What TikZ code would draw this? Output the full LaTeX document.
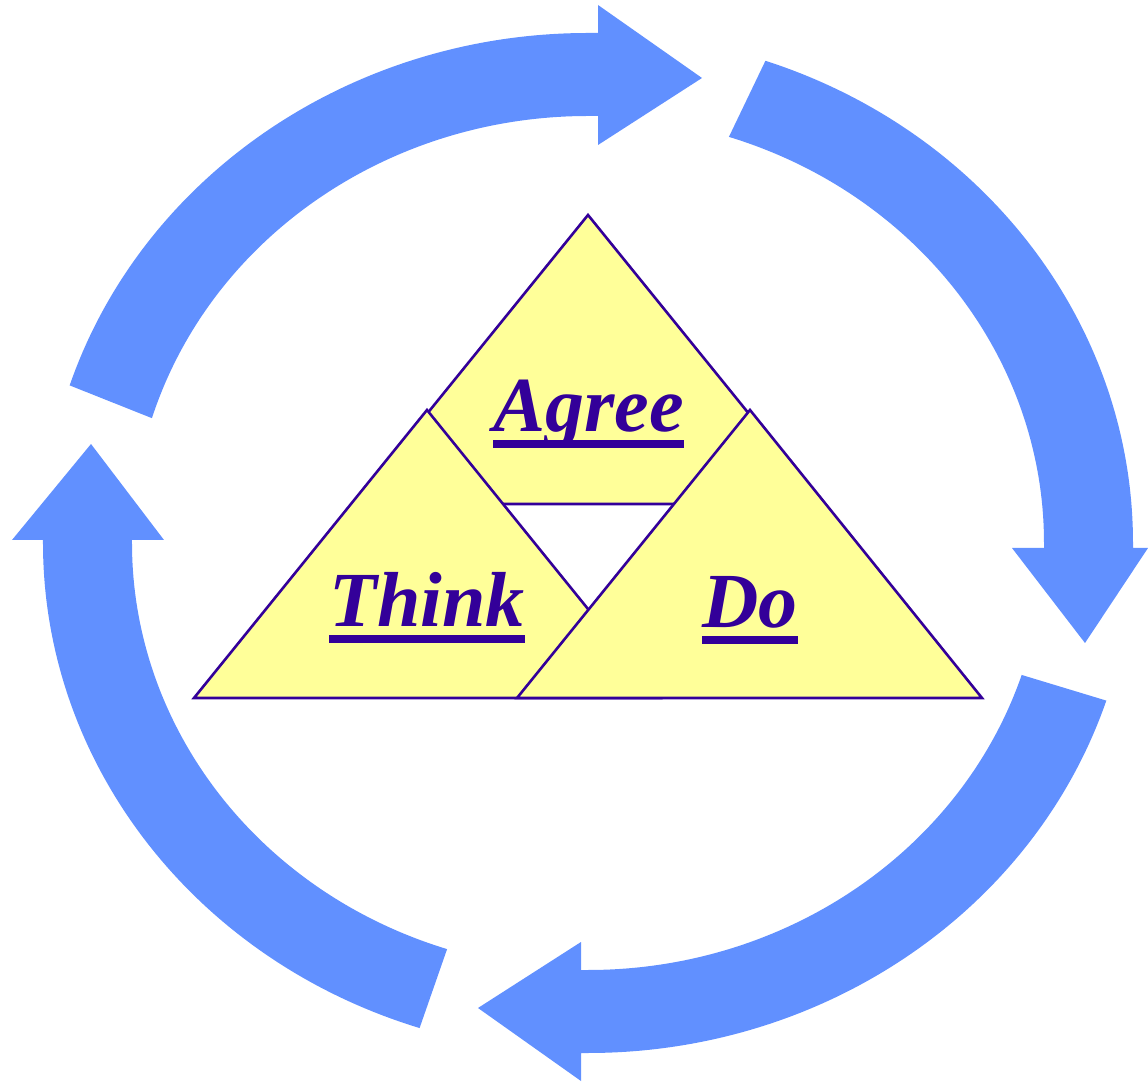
\documentclass[tikz,border=0pt]{standalone}
\usepackage{fontspec}
\setmainfont{Liberation Serif}
\definecolor{arrowblue}{HTML}{6190FF}
\definecolor{tripurple}{HTML}{330099}
\definecolor{triyellow}{HTML}{FFFF99}
\newcommand\ulword[1]{\setbox0\hbox{#1}\rlap{\raisebox{-16pt}{\rule{\wd0}{8pt}}}\box0}
\tikzset{
  cyclearrow/.style={fill=arrowblue, draw=none},
  tri/.style={fill=triyellow, draw=tripurple, line width=2.6pt, line join=miter},
  word/.style={text=tripurple, font=\fontsize{78pt}{80pt}\selectfont\bfseries\itshape, anchor=base, inner sep=0pt}
}
\begin{document}
\begin{tikzpicture}[x=1pt,y=1pt]
\useasboundingbox (-588,-540) rectangle (560,543);
% top arrow
\fill[cyclearrow] (162:545pt and 510pt) arc[start angle=162,end angle=90,x radius=545pt,y radius=510pt]
  -- (10,510) -- (10,538) -- (114,465) -- (10,398) -- (10,427) -- (0,427)
  arc[start angle=90,end angle=163,x radius=456pt,y radius=427pt] -- cycle;
% right arrow
\fill[cyclearrow] (71:545pt and 510pt) arc[start angle=71,end angle=0,x radius=545pt,y radius=510pt]
  -- (545,-5) -- (560,-5) -- (497,-100) -- (424,-5) -- (456,-5) -- (456,0)
  arc[start angle=0,end angle=72,x radius=456pt,y radius=427pt] -- cycle;
% bottom arrow
\fill[cyclearrow] (-18:545pt and 510pt) arc[start angle=-18,end angle=-90,x radius=545pt,y radius=510pt]
  -- (-7,-510) -- (-7,-538) -- (-110,-465) -- (-7,-399) -- (-7,-427) -- (0,-427)
  arc[start angle=-90,end angle=-18,x radius=456pt,y radius=427pt] -- cycle;
% left arrow
\fill[cyclearrow] (252:545pt and 510pt) arc[start angle=252,end angle=180,x radius=545pt,y radius=510pt]
  -- (-545,3) -- (-576,3) -- (-497,99) -- (-424,3) -- (-456,3) -- (-456,0)
  arc[start angle=180,end angle=252,x radius=456pt,y radius=427pt] -- cycle;
% triangles
\draw[tri] (0,328) -- (234,39) -- (-234,39) -- cycle;
\draw[tri] (-161,133) -- (72,-155) -- (-394,-155) -- cycle;
\draw[tri] (162,133) -- (394,-155) -- (-71,-155) -- cycle;
% words
\node[word] (agree) at (0.5,111) {\ulword{Agree}};
\node[word] (think) at (-161,-84) {\ulword{Think}};
\node[word] (do) at (162,-85) {\ulword{Do}};
\end{tikzpicture}
\end{document}
